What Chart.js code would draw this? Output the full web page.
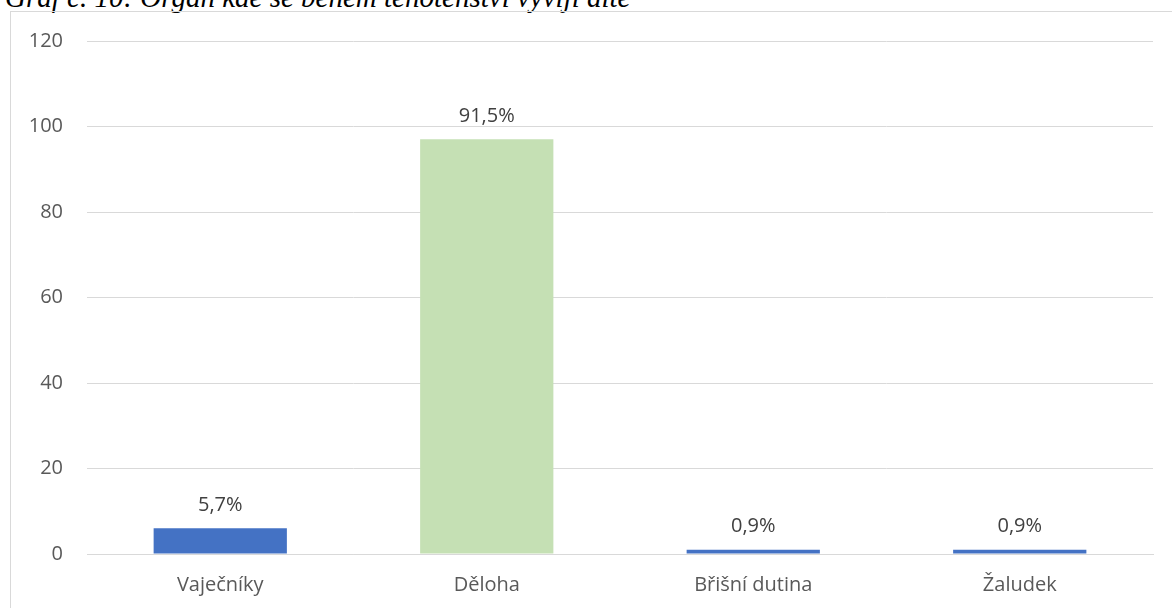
<!DOCTYPE html>
<html>
<head>
<meta charset="utf-8">
<script src="https://cdn.jsdelivr.net/npm/chart.js@4"></script>
<style>
    body { margin: 0; background: #fff; overflow: hidden; }
    .caption {
        position: absolute; left: 5px; top: -17px;
        font: italic 29px/29px "Liberation Serif", serif; color: #000;
        white-space: nowrap;
    }
    .frame {
        position: absolute; left: 10px; top: 11px; width: 1180px; height: 620px;
        border: 1px solid #d9d9d9; box-sizing: border-box;
    }
    .wrap { position: absolute; left: 11px; top: 12px; width: 1161px; height: 596px; }
</style>
</head>
<body>
<div class="caption">Graf č. 10: Orgán kde se během těhotenství vyvíjí dítě</div>
<div class="frame"></div>
<div class="wrap"><canvas id="organChart"></canvas></div>
<script>
// ORGAN DATA
const organs = ['Vaječníky', 'Děloha', 'Břišní dutina', 'Žaludek'];
const counts = [6, 97, 1, 1];
const shareLabels = ['5,7%', '91,5%', '0,9%', '0,9%'];
const barColors = ['#4472C4', '#C5E0B4', '#4472C4', '#4472C4'];
const yTicks = [0, 20, 40, 60, 80, 100, 120];

// value labels above each bar
const shareLabelPlugin = {
    id: 'shareLabels',
    afterDatasetsDraw(chart) {
        const ctx = chart.ctx;
        const bars = chart.getDatasetMeta(0).data;
        ctx.save();
        ctx.font = '20px "Open Sans"';
        ctx.fillStyle = '#404040';
        ctx.textAlign = 'center';
        ctx.textBaseline = 'middle';
        bars.forEach((bar, i) => {
            ctx.fillText(shareLabels[i], bar.x, bar.y - 23);
        });
        ctx.restore();
    }
};

const organChart = new Chart(document.getElementById('organChart'), {
    type: 'bar',
    data: {
        labels: organs,
        datasets: [{
            data: counts,
            backgroundColor: barColors,
            barPercentage: 0.5,
            categoryPercentage: 1,
        }]
    },
    options: {
        responsive: true,
        maintainAspectRatio: false,
        animation: false,
        layout: { padding: { top: 29, right: 19, left: 0, bottom: 0 } },
        scales: {
            y: {
                min: 0,
                max: 120,
                afterFit: (scale) => {
                    scale.width = 76;
                    scale.paddingTop = 0;
                    scale.paddingBottom = 0;
                },
                afterBuildTicks: (scale) => { scale.ticks = yTicks.map(v => ({ value: v })); },
                border: { display: false },
                grid: { color: '#d9d9d9', lineWidth: 1, drawTicks: false },
                ticks: {
                    color: '#595959',
                    padding: 24,
                    font: { family: 'Open Sans', size: 20 },
                },
            },
            x: {
                afterFit: (scale) => {
                    scale.height = 54;
                    scale.paddingLeft = 0;
                    scale.paddingRight = 0;
                },
                grid: { display: false },
                border: { color: '#d9d9d9', width: 1 },
                ticks: {
                    color: '#595959',
                    padding: 11,
                    font: { family: 'Open Sans', size: 20 },
                },
            },
        },
        plugins: {
            legend: { display: false },
            tooltip: { enabled: false },
        }
    },
    plugins: [shareLabelPlugin]
});
</script>
</body>
</html>
